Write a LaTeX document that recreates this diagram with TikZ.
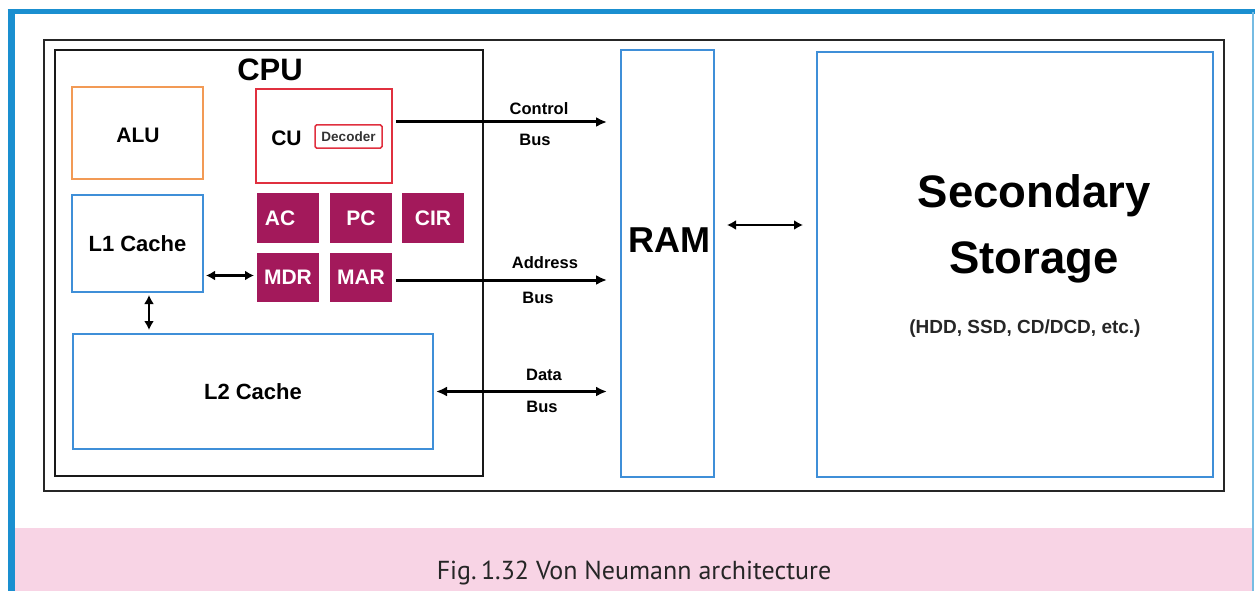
\documentclass[tikz,border=0pt]{standalone}
\usepackage{fontspec}
\setmainfont{Liberation Sans}
\newfontfamily\capfont{PT Sans}
\usetikzlibrary{arrows.meta,calc}
\definecolor{frameblue}{HTML}{1A8FD0}
\definecolor{boxblue}{HTML}{3F8FD8}
\definecolor{aluorange}{HTML}{F29A55}
\definecolor{cured}{HTML}{E0303F}
\definecolor{regmag}{HTML}{A3195B}
\definecolor{bandpink}{HTML}{F8D4E5}
\newcommand{\bsz}[1]{\bfseries\fontsize{#1}{#1}\selectfont}
\begin{document}
\begin{tikzpicture}[x=1pt,y=-1pt,
  box/.style={draw, rectangle, inner sep=0pt, outer sep=0pt, line width=2pt},
  bluebox/.style={box, draw=boxblue},
  reg/.style={rectangle, fill=regmag, inner sep=0pt, outer sep=0pt,
    minimum width=62pt, minimum height=50pt, text=white, font=\bsz{21}},
  txt/.style={inner sep=0pt, font=\bsz{21}},
  buslbl/.style={inner sep=0pt, font=\bsz{16.5}},
  bus/.style={line width=3pt, -{Latex[length=11pt,width=10pt]}},
  dbus/.style={line width=3pt, {Latex[length=11pt,width=10pt]}-{Latex[length=11pt,width=10pt]}},
  link/.style={line width=2.6pt, {Latex[length=9pt,width=10pt]}-{Latex[length=9pt,width=10pt]}}]
\useasboundingbox (0,0) rectangle (1255,591);

% caption band and page frame
\fill[bandpink] (14,528) rectangle (1253,591);
\draw[frameblue, line width=7pt] (11,591) -- (11,12);
\draw[frameblue, line width=5pt] (7.5,12) -- (1255,12);
\draw[frameblue!60, line width=2pt] (1253,12) -- (1253,591);

% figure frame
\draw[black!85, line width=1.8pt] (44,40) rectangle (1224,491);

% CPU
\node[box, draw=black!90, line width=2.5pt, minimum width=428pt, minimum height=426pt] (cpu) at (269,263) {};
\node[inner sep=0pt, font=\bsz{31}] (cputitle) at (270,70) {CPU};

\node[box, draw=aluorange, minimum width=131pt, minimum height=92pt] (alu) at (137.5,133) {};
\node[txt] (alutxt) at (138,135) {ALU};

\node[box, draw=cured, minimum width=136pt, minimum height=94pt] (cu) at (324,136) {};
\node[txt] (cutxt) at (286.5,138) {CU};
\node[box, draw=cured, line width=1.5pt, rounded corners=1.5pt, minimum width=67pt, minimum height=23pt,
  text=black!80, font=\bsz{13.5}] (dec) at (348.5,136.5) {Decoder};

\node[reg] (ac) at (288,218) {\hspace*{-16pt}AC};
\node[reg] (pc) at (361,218) {PC};
\node[reg] (cir) at (433,218) {CIR};
\node[reg, minimum height=49pt] (mdr) at (288,277.5) {MDR};
\node[reg, minimum height=49pt] (mar) at (361,277.5) {MAR};

\node[bluebox, minimum width=131pt, minimum height=97pt, font=\bsz{22}] (l1) at (137.5,243.5) {L1 Cache};
\node[bluebox, minimum width=360pt, minimum height=115pt, font=\bsz{22}] (l2) at (253,391.5) {L2 Cache};

% memory
\node[bluebox, minimum width=93pt, minimum height=427pt] (ram) at (667.5,263.5) {};
\node[inner sep=0pt, font=\bsz{36}] (ramtxt) at (669,240.5) {RAM};

\node[bluebox, minimum width=396pt, minimum height=425pt] (sec) at (1015,264.5) {};
\node[inner sep=0pt, anchor=base, font=\bsz{45.5}] (sec1) at (1034,207) {Secondary};
\node[inner sep=0pt, anchor=base, font=\bsz{45.5}] (sec2) at (1034,273) {Storage};
\node[inner sep=0pt, anchor=base, font=\bsz{19}, text=black!85] (sec3) at (1025,333) {(HDD, SSD, CD/DCD, etc.)};

% buses
\draw[bus, shorten <=4pt, shorten >=14pt] ([yshift=14pt]cu.east) -- ([yshift=14pt]cu.east -| ram.west);
\draw[bus, shorten <=4pt, shorten >=14pt] ([yshift=-2.5pt]mar.east) -- ([yshift=-2.5pt]mar.east -| ram.west);
\draw[dbus, shorten <=3pt, shorten >=14pt] (l2.east) -- (l2.east -| ram.west);

\node[buslbl] (cbus1) at (539,109) {Control};
\node[buslbl] (cbus2) at (535,140) {Bus};
\node[buslbl] (abus1) at (545,263) {Address};
\node[buslbl] (abus2) at (538,298) {Bus};
\node[buslbl] (dbus1) at (544,375) {Data};
\node[buslbl] (dbus2) at (542,407) {Bus};

% internal links
\draw[link, shorten <=3pt, shorten >=3pt] ([yshift=2pt]mdr.west -| l1.east) -- ([yshift=2pt]mdr.west);
\draw[link, shorten <=3pt, shorten >=4pt] ([xshift=11.5pt]l1.south) -- ([xshift=11.5pt]l1.south |- l2.north);
\draw[line width=2.4pt, {Latex[length=9pt,width=10pt]}-{Latex[length=9pt,width=10pt]}, shorten <=13pt, shorten >=14pt]
  ([yshift=38.5pt]ram.east) -- ([yshift=38.5pt]ram.east -| sec.west);

% caption
\node[inner sep=0pt, anchor=base, text=black!85, font=\capfont\fontsize{26}{26}\selectfont] (caption) at (634,579)
  {Fig.\,1.32 Von Neumann architecture};
\end{tikzpicture}
\end{document}
